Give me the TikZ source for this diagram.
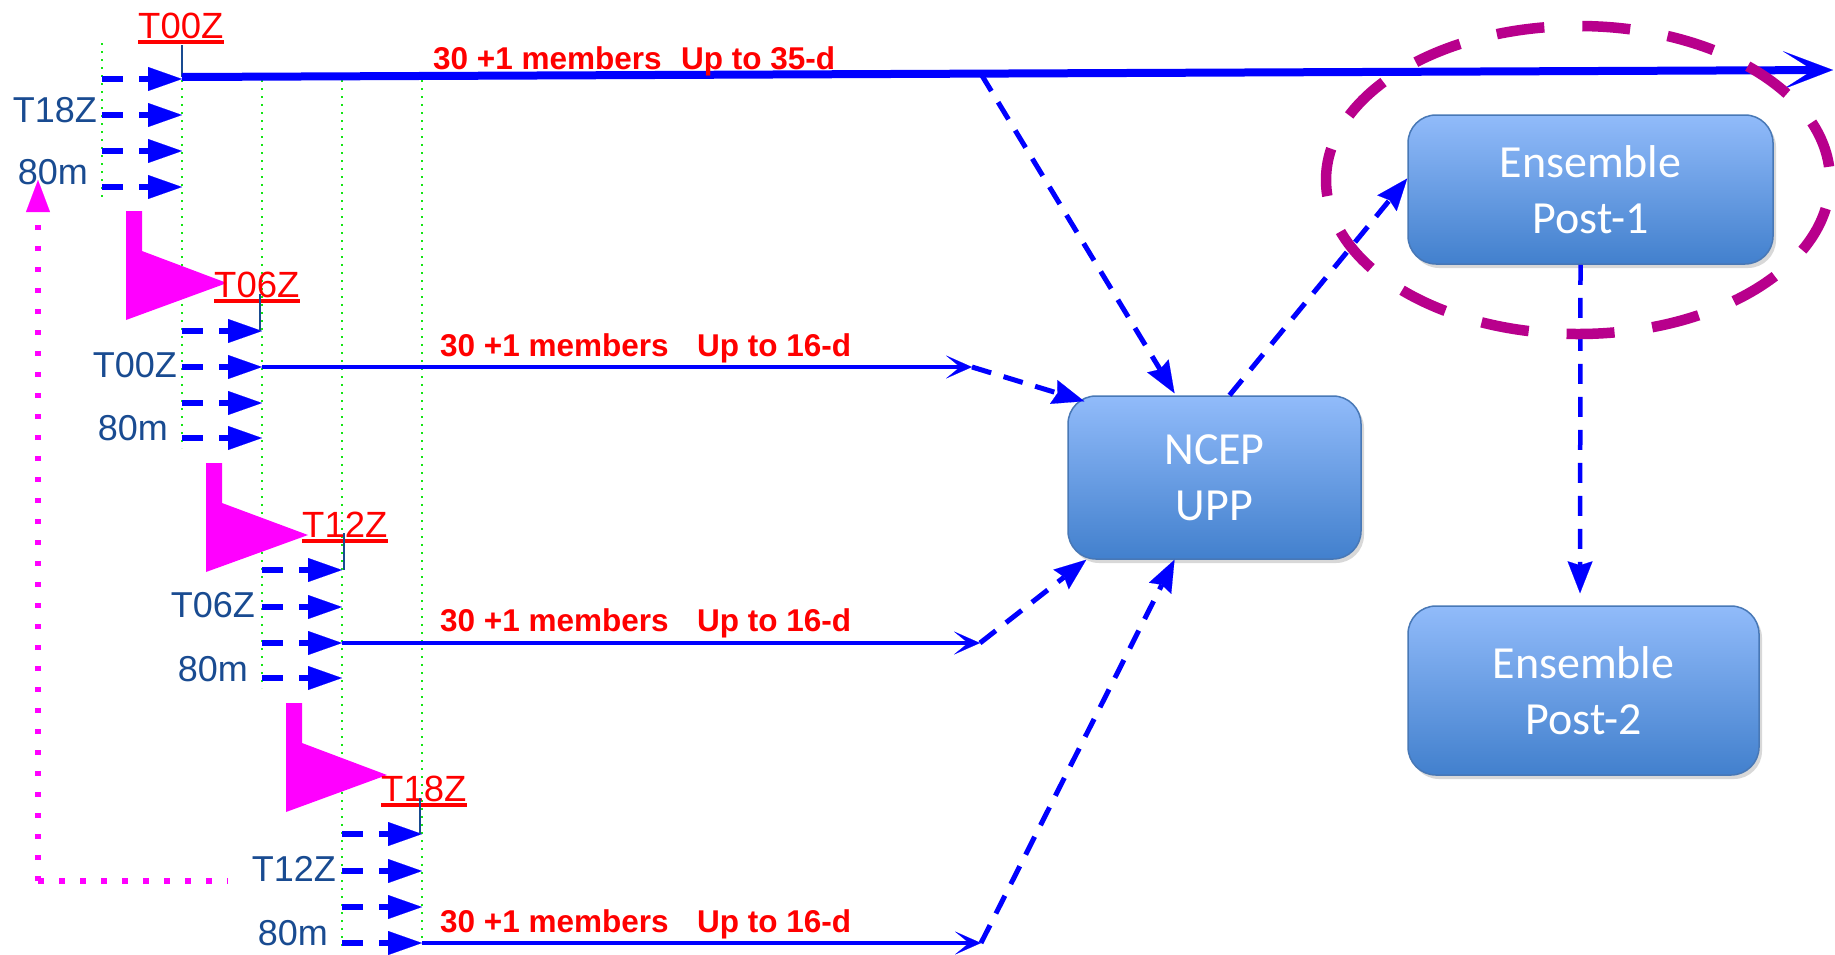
\documentclass[tikz,border=0pt]{standalone}
\usepackage{fontspec}
\setmainfont{Liberation Sans}
\newfontfamily\carl{Carlito}
\usetikzlibrary{arrows.meta,shadows,calc}
\definecolor{dkblue}{RGB}{25,75,145}
\definecolor{pblue}{RGB}{0,0,255}
\definecolor{mag}{RGB}{255,0,255}
\definecolor{purp}{RGB}{184,0,140}
\definecolor{grn}{RGB}{20,230,20}
\definecolor{boxtop}{RGB}{145,187,250}
\definecolor{boxbot}{RGB}{66,128,205}
\definecolor{boxline}{RGB}{72,120,182}
\begin{document}
\begin{tikzpicture}[x=1pt,y=-1pt,
  rowarrow/.style={pblue, line width=6pt, dash pattern=on 21pt off 16pt,
    -{Triangle[length=34pt,width=24pt,line width=0.1pt]}},
  gline/.style={grn, line width=2.2pt, dash pattern=on 2.2pt off 5.8pt},
  tickln/.style={dkblue, line width=2pt},
  mlab/.style={font=\fontsize{36}{40}\selectfont, text=dkblue, inner sep=0pt, anchor=base east},
  tlab/.style={font=\fontsize{36.5}{40}\selectfont, text=red, inner sep=0pt, anchor=base west},
  ulin/.style={red, line width=3.5pt},
  rlab/.style={font=\bfseries\fontsize{31.5}{36}\selectfont, text=red, inner sep=0pt, anchor=base west},
  bigline/.style={pblue, line width=8pt,
    -{Stealth[length=50pt,width=38pt,inset=30pt,line width=0.1pt]}},
  memline/.style={pblue, line width=4.5pt,
    -{Stealth[length=26pt,width=23pt,inset=14pt,line width=0.1pt]}},
  conn/.style={pblue, line width=5pt, dash pattern=on 20pt off 13pt,
    -{Stealth[length=32pt,width=25pt,inset=4pt,line width=0.1pt]}},
  magdot/.style={mag, line width=5.5pt, dash pattern=on 5.5pt off 15.5pt},
  box/.style={rounded corners=28pt, draw=boxline, line width=1.5pt,
    top color=boxtop, bottom color=boxbot, text=white,
    font=\carl\fontsize{46}{56}\selectfont, align=center, inner sep=0pt,
    drop shadow={shadow xshift=3pt,shadow yshift=-4pt,opacity=0.3}}
]
\useasboundingbox (0,0) rectangle (1835,954);
\fill[white] (0,0) rectangle (1835,954);

% green dotted guide lines
\draw[gline] (102,43) -- (102,197);
\draw[gline] (182,80) -- (182,448);
\draw[gline] (262,80) -- (262,688);
\draw[gline] (342,80) -- (342,948);
\draw[gline] (422,80) -- (422,938);

% magenta flags
\fill[mag] (126,211) -- (142,211) -- (142,251) -- (227,283) -- (126,320) -- cycle;
\fill[mag] (206,463) -- (222,463) -- (222,503) -- (308,535) -- (206,572) -- cycle;
\fill[mag] (286,703) -- (302,703) -- (302,743) -- (387,775) -- (286,812) -- cycle;

% row arrows
\foreach \g/\xa/\ya/\yb/\yc/\yd in {1/102/79/115/151/187, 2/182/331/367/403/438,
                                    3/262/570/607/643/678, 4/342/834/871/907/943}{
  \foreach \yy [count=\i] in {\ya,\yb,\yc,\yd}{
    \coordinate (s\g\i) at (\xa,\yy);
    \coordinate (e\g\i) at (\xa+80,\yy);
    \draw[rowarrow] (s\g\i) -- (e\g\i);
  }
}

% row labels
\node[mlab] (a1) at (97,122) {T18Z};
\node[mlab] (b1) at (88,184) {80m};
\node[mlab] (a2) at (177,377) {T00Z};
\node[mlab] (b2) at (168,440) {80m};
\node[mlab] (a3) at (255,617) {T06Z};
\node[mlab] (b3) at (248,681) {80m};
\node[mlab] (a4) at (336,881) {T12Z};
\node[mlab] (b4) at (328,945) {80m};

% red cycle labels
\node[tlab] (t1) at (138,38) {T00Z};
\node[tlab] (t2) at (214,297) {T06Z};
\node[tlab] (t3) at (302,537) {T12Z};
\node[tlab] (t4) at (381,801) {T18Z};
\foreach \t in {t1,t2,t3,t4}{
  \draw[ulin] ($(\t.base west)+(0,4)$) -- ($(\t.base east)+(0,4)$);
}
\coordinate (k1) at (182,45);
\coordinate (k2) at (260,294);
\coordinate (k3) at (344,533);
\coordinate (k4) at (420,798);
\draw[tickln] (k1) -- (182,77);
\draw[tickln] (k2) -- (260,331);
\draw[tickln] (k3) -- (344,570);
\draw[tickln] (k4) -- (420,834);

% boxes
\node[box, minimum width=293pt, minimum height=163pt] (ncep) at (1214.5,477.5) {NCEP\\UPP};
\node[box, minimum width=365pt, minimum height=149pt] (post1) at (1590.5,189.5) {Ensemble\\Post-1};
\node[box, minimum width=351pt, minimum height=169pt] (post2) at (1583.5,690.5) {Ensemble\\Post-2};

% member lines
\coordinate (m0) at (182,77);
\coordinate (mend) at (1833,70);
\coordinate (mtap) at (981,74);
\coordinate (g2end) at (972,367);
\coordinate (g3end) at (980,643);
\coordinate (g4end) at (981,943);
\draw[bigline] (m0) -- (mend);
\draw[memline] (e22) -- (g2end);
\draw[memline] (e33) -- (g3end);
\draw[memline] (e44) -- (g4end);

\node[rlab] (r1) at (433,69) {30 +1 members\hspace{19.5pt}Up to 35-d};
\node[rlab] (r2) at (440,356) {30 +1 members\hspace{28.5pt}Up to 16-d};
\node[rlab] (r3) at (440,631) {30 +1 members\hspace{28.5pt}Up to 16-d};
\node[rlab] (r4) at (440,932) {30 +1 members\hspace{28.5pt}Up to 16-d};

% dashed connectors
\draw[conn] (mtap) -- ($(ncep.north)+(-40,-2)$);
\draw[conn] (g2end) -- ($(ncep.north west)+(17,6)$);
\draw[conn] (g3end) -- ($(ncep.south west)+(19,0)$);
\draw[conn] (g4end) -- ($(ncep.south)+(-40,0)$);
\draw[conn] ($(ncep.north)+(15,0)$) -- ($(post1.west)+(0,-11)$);
\draw[conn, line width=4.5pt] ($(post1.south)+(-10,0)$) -- ($(post2.north)+(-3.5,-12)$);

% magenta dotted return
\coordinate (dc) at (38,881);
\coordinate (dtop) at (38,180);
\coordinate (dend) at (228,881);
\draw[magdot, -{Triangle[length=32pt,width=24pt,line width=0.1pt]}] (dc) -- (dtop);
\draw[magdot] (dc) -- (dend);

% highlight ellipse
\draw[purp, line width=10.5pt, dash pattern=on 48pt off 38pt, dash phase=57pt]
  (1578,180) ellipse [x radius=252, y radius=154];
\end{tikzpicture}
\end{document}
